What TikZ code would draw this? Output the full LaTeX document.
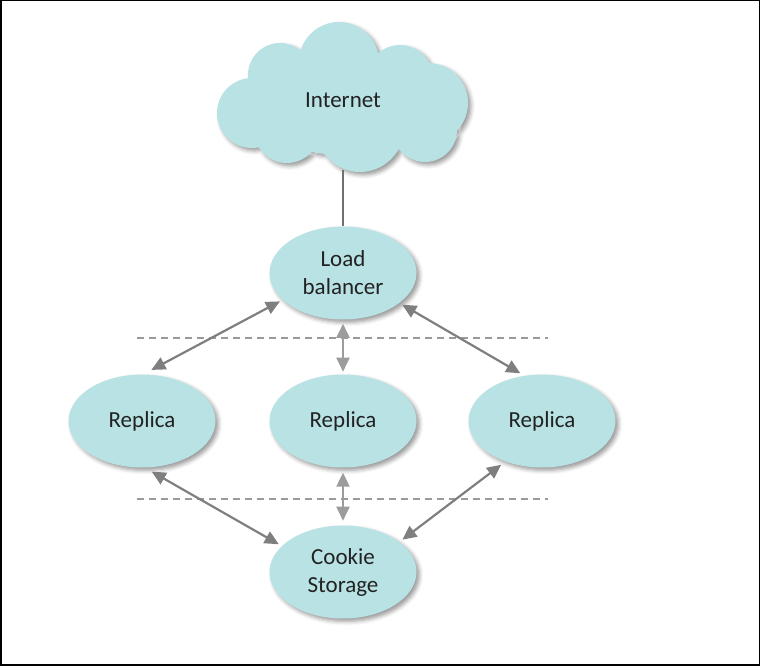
\documentclass[tikz,border=0pt]{standalone}
\usepackage{fontspec}
\setmainfont{Carlito}
\usetikzlibrary{shapes.geometric,arrows.meta,shadows.blur}
\definecolor{nodefill}{HTML}{B9E2E4}
\definecolor{arrowdark}{HTML}{7F7F7F}
\definecolor{arrowlight}{HTML}{9C9C9C}
\definecolor{dashgray}{HTML}{9A9A9A}
\definecolor{textdark}{HTML}{222222}
\definecolor{stemgray}{HTML}{707070}
\begin{document}
\begin{tikzpicture}[x=1pt,y=-1pt,
  softshadow/.style={blur shadow={shadow xshift=3pt, shadow yshift=-3pt, shadow opacity=40, shadow blur radius=4pt}},
  txt/.style={font=\fontsize{23}{28}\selectfont, text=textdark, align=center},
  bubble/.style={ellipse, fill=nodefill, minimum width=147pt, minimum height=93pt,
    inner sep=0pt, outer sep=0pt, txt, softshadow},
  cloudarea/.style={ellipse, minimum width=250pt, minimum height=140pt,
    inner sep=0pt, outer sep=0pt, txt},
  tip/.tip={Triangle[length=14pt,width=13pt]},
  linkdiag/.style={line width=2.2pt, draw=arrowdark, fill=arrowdark, {tip}-{tip}},
  linkvert/.style={line width=2.2pt, draw=arrowlight, fill=arrowlight, {tip}-{tip}},
  tierline/.style={draw=dashgray, line width=1.2pt, dash pattern=on 7pt off 5pt},
  stem/.style={draw=stemgray, line width=1.6pt}
]
\useasboundingbox (0,0) rectangle (761,666);
\draw[line width=1.5pt] (0.75,0.75) rectangle (759.5,664.8);

% tier separators
\coordinate (d1a) at (137,338);
\coordinate (d1b) at (548,338);
\coordinate (d2a) at (137,499);
\coordinate (d2b) at (548,499);
\draw[tierline] (d1a) -- (d1b);
\draw[tierline] (d2a) -- (d2b);

% cloud outline (union of puffs)
\fill[nodefill, softshadow]
  (339,62) circle[radius=40pt]
  (280,75) circle[radius=32pt]
  (252,113) circle[radius=35pt]
  (287,130) circle[radius=33pt]
  (360,128) circle[radius=44pt]
  (425,130) circle[radius=32pt]
  (428,103) circle[radius=40pt]
  (400,78) circle[radius=33pt]
  (343,105) ellipse[x radius=90pt, y radius=50pt];

% nodes
\node[cloudarea] (inet) at (343,100) {Internet};
\node[bubble] (lb) at (343,273) {Load\\balancer};
\node[bubble] (r1) at (142,421) {Replica};
\node[bubble] (r2) at (343,421) {Replica};
\node[bubble] (r3) at (542,421) {Replica};
\node[bubble] (cs) at (343,572) {Cookie\\Storage};

% connectors
\draw[stem] (inet) -- (lb);
\draw[linkdiag, shorten <=3.4pt, shorten >=9.7pt] (lb.204) -- (r1.89.5);
\draw[linkvert, shorten <=4.3pt, shorten >=2.8pt] (lb.south) -- (r2.north);
\draw[linkdiag, shorten <=3.5pt, shorten >=5.1pt] (lb.332) -- (r3.111.3);
\draw[linkdiag, shorten <=8.4pt, shorten >=3.7pt] (r1.273) -- (cs.157.5);
\draw[linkvert, shorten <=5.2pt, shorten >=4.8pt] (r2.south) -- (cs.north);
\draw[linkdiag, shorten <=5.6pt, shorten >=4pt] (r3.228.6) -- (cs.28.1);
\end{tikzpicture}
\end{document}
